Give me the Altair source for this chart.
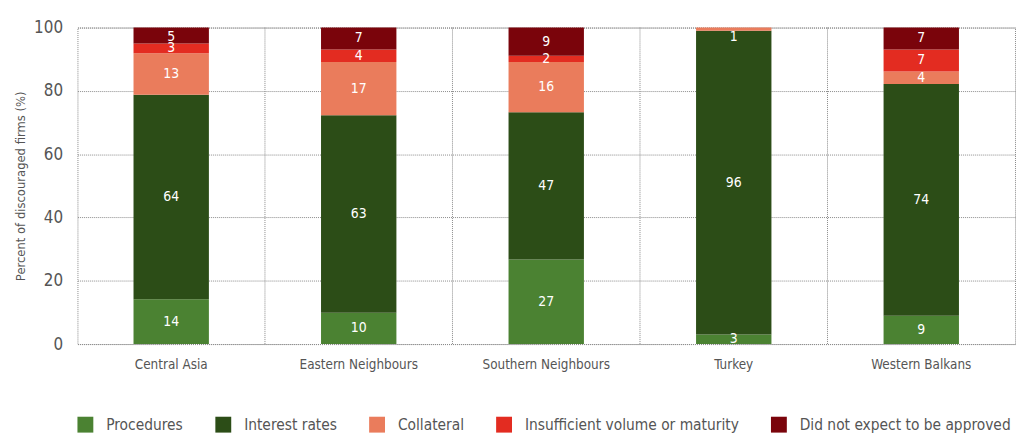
import altair as alt
import pandas as pd

regions = ["Central Asia", "Eastern Neighbours", "Southern Neighbours", "Turkey", "Western Balkans"]
reasons = ["Procedures", "Interest rates", "Collateral", "Insufficient volume or maturity", "Did not expect to be approved"]
colors = ["#4b8232", "#2c4d17", "#ea7c5c", "#e32c21", "#7a040b"]

procedures = [14, 10, 27, 3, 9]
interest_rates = [64, 63, 47, 96, 74]
collateral = [13, 17, 16, 1, 4]
insufficient = [3, 4, 2, 0, 7]
did_not_expect = [5, 7, 9, 0, 7]

# category boundaries (between region bands) for the vertical dotted grid
boundaries = [1, 2, 3, 4]

series = [procedures, interest_rates, collateral, insufficient, did_not_expect]
rows = []
for k, (reason, vals) in enumerate(zip(reasons, series)):
    for region, v in zip(regions, vals):
        rows.append({"region": region, "reason": reason, "value": v, "order": k})
df = pd.DataFrame(rows)

FONT = "DejaVu Sans Condensed"
GRID = "#8a8a8a"

base = alt.Chart(df).transform_joinaggregate(
    total="sum(value)", groupby=["region"]
).transform_calculate(
    pct="datum.value / datum.total * 100"
).transform_stack(
    stack="pct", groupby=["region"], sort=[alt.SortField("order", "ascending")], as_=["y0", "y1"]
).transform_calculate(
    mid="min((datum.y0 + datum.y1) / 2, 97)"
)

x_enc = alt.X(
    "region:N", sort=regions, title=None,
    scale=alt.Scale(paddingInner=0.598, paddingOuter=0.299),
    axis=alt.Axis(labelAngle=0, labelFontSize=13.5, labelFont=FONT, labelColor="#555555",
                  labelPadding=14, ticks=False, tickSize=0, domain=False, grid=False),
)

y_scale = alt.Scale(domain=[0, 100], nice=False)

vgrid = alt.Chart(pd.DataFrame({"b": boundaries})).mark_rule(
    color=GRID, strokeDash=[1, 1], strokeWidth=1
).encode(
    x=alt.X("b:Q", scale=alt.Scale(domain=[0, len(regions)], nice=False, zero=False), axis=None),
)

bars = base.mark_bar().encode(
    x=x_enc,
    y=alt.Y("y0:Q", scale=y_scale, title="Percent of discouraged firms (%)",
            axis=alt.Axis(values=[0, 20, 40, 60, 80, 100], labelFontSize=17, labelFont=FONT,
                          labelColor="#555555", labelPadding=15, ticks=False, tickSize=0, domain=False,
                          grid=True, gridColor=GRID, gridDash=[1, 1], gridWidth=1,
                          titleFont=FONT, titleFontSize=13, titleFontWeight="normal",
                          titleColor="#555555", titlePadding=6)),
    y2="y1:Q",
    color=alt.Color("reason:N", scale=alt.Scale(domain=reasons, range=colors), title=None,
                    legend=alt.Legend(orient="none", legendX=0, legendY=392, direction="horizontal",
                                      columns=5, symbolType="square", symbolSize=256,
                                      symbolStrokeWidth=0, symbolOpacity=1, labelFont=FONT,
                                      labelFontSize=15.5, labelColor="#555555", labelOffset=13,
                                      labelLimit=0, columnPadding=32)),
    order=alt.Order("order:Q"),
)

labels = base.transform_filter("datum.value > 0").mark_text(
    color="white", font=FONT, fontSize=14, baseline="middle", align="center"
).encode(
    x=x_enc,
    y=alt.Y("mid:Q", scale=y_scale),
    text=alt.Text("value:Q", format="d"),
)

chart = alt.layer(vgrid, alt.layer(bars, labels)).resolve_scale(x="independent").properties(
    width=945, height=319, autosize="none",
    padding={"left": 70, "top": 18, "right": 2, "bottom": 96},
).configure_view(
    stroke=GRID, strokeDash=[1, 1], strokeWidth=1
)

chart.save("out.html", embed_options={"renderer": "svg", "actions": False})
